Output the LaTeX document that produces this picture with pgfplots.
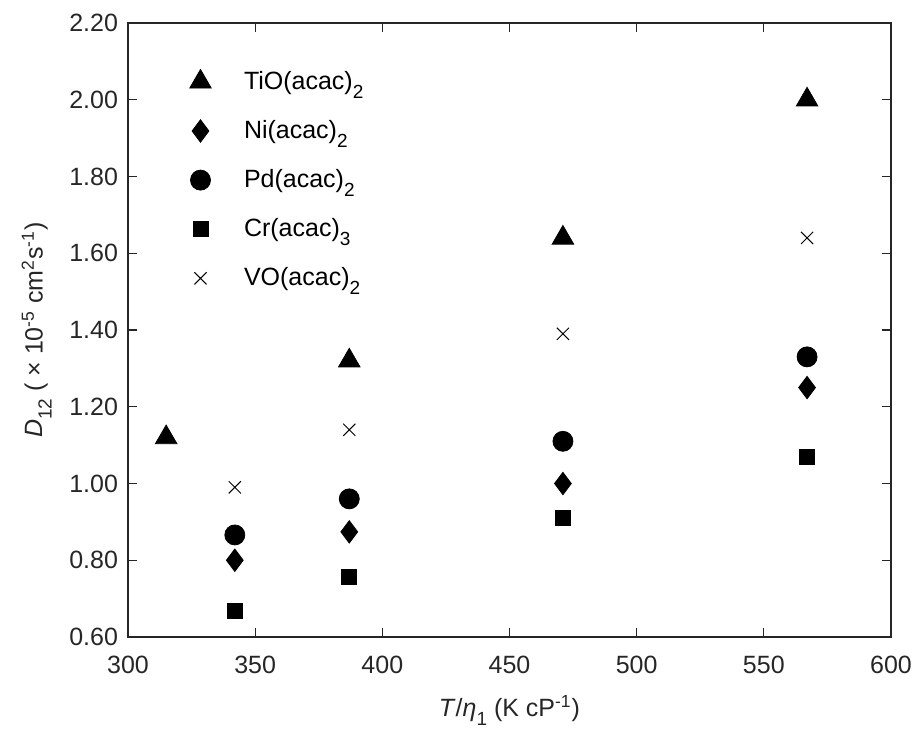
\documentclass[border=0pt]{standalone}
\usepackage{fontspec}
\setmainfont{Liberation Sans}
\usepackage{pgfplots}
\pgfplotsset{compat=1.18}
\usetikzlibrary{calc}
\definecolor{axgray}{RGB}{38,38,38}
% MATLAB-like lowered subscript
\newcommand{\sub}[1]{\raisebox{-4.5pt}{\fontsize{9.5}{10}\selectfont #1}}

\begin{document}
\begin{tikzpicture}
\begin{axis}[
    width=381.5pt, height=307pt,
    scale only axis,
    xmin=300, xmax=600,
    ymin=0.6, ymax=2.2,
    xtick={300,350,...,600},
    ytick={0.6,0.8,...,2.21},
    tick align=inside,
    major tick length=4.5pt,
    axis line style={axgray, line width=0.6pt},
    tick style={axgray, line width=0.6pt},
    ticklabel style={text=axgray},
    tick label style={font=\fontsize{12.5}{14}\selectfont},
    /pgf/number format/assume math mode=true,
    yticklabel style={xshift=-1.5pt, /pgf/number format/.cd, fixed, fixed zerofill, precision=2},
    xticklabel style={yshift=-6pt, /pgf/number format/.cd, fixed},
    label style={font=\fontsize{12.5}{14}\selectfont, text=axgray},
    xlabel={\textit{T}/\textit{η}\sub{1} (K cP\textsuperscript{-1})},
    ylabel={\textit{D}\sub{12} ( × 10\textsuperscript{-5} cm\textsuperscript{2}s\textsuperscript{-1})},
    xlabel style={yshift=-4pt},
    ylabel style={yshift=2pt},
    legend image code/.code={%
        \path (0pt,0pt) (27.5pt,0pt);
        \draw[mark repeat=2,mark phase=2] plot coordinates {(0pt,0pt)(8pt,0pt)(16pt,0pt)};},
    legend style={at={(rel axis cs:0.065,0.935)}, anchor=north west, draw=none, fill=none,
        font=\fontsize{12.5}{14}\selectfont, row sep=10pt},
    legend cell align=left,
    clip=false,
]
\addplot[only marks, mark=triangle*, mark size=6.2pt, black]
coordinates {(315,1.12) (387,1.32) (471,1.64) (567,2.00)};
\addlegendentry{TiO(acac)\sub{2}}
\addplot[only marks, mark=diamond*, mark size=5.6pt, black]
coordinates {(342,0.80) (387,0.874) (471,1.00) (567,1.25)};
\addlegendentry{Ni(acac)\sub{2}}
\addplot[only marks, mark=*, mark size=5pt, black]
coordinates {(342,0.866) (387,0.96) (471,1.11) (567,1.33)};
\addlegendentry{Pd(acac)\sub{2}}
\addplot[only marks, mark=square*, mark size=3.8pt, black]
coordinates {(342,0.668) (387,0.756) (471,0.91) (567,1.07)};
\addlegendentry{Cr(acac)\sub{3}}
\addplot[only marks, mark=x, mark size=4.3pt, black, line width=0.5pt]
coordinates {(342,0.99) (387,1.14) (471,1.39) (567,1.64)};
\addlegendentry{VO(acac)\sub{2}}
\end{axis}
\pgfresetboundingbox
\path ($(current axis.south west)+(-64pt,-49pt)$) rectangle ($(current axis.north east)+(13pt,11.5pt)$);
\end{tikzpicture}
\end{document}
